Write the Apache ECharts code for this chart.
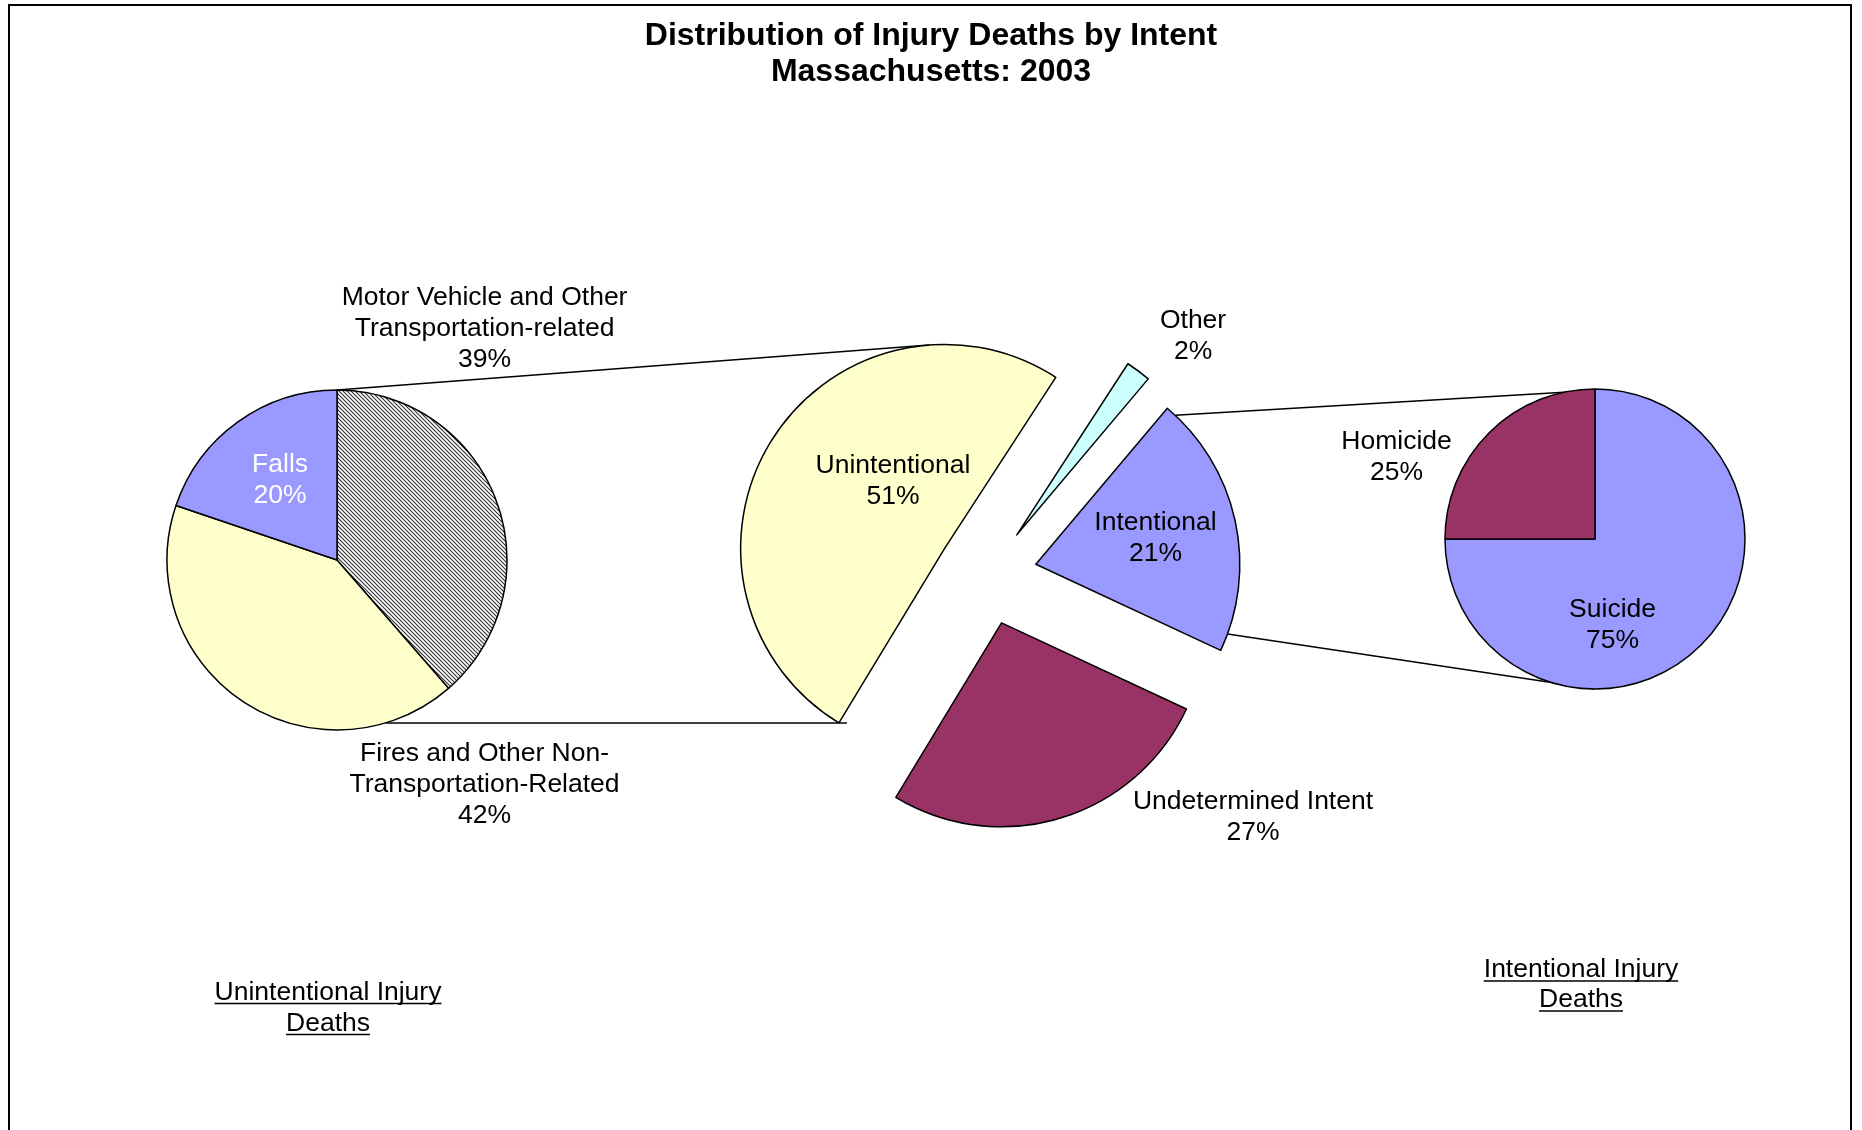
<!DOCTYPE html>
<html>
<head>
<meta charset="utf-8">
<title>Distribution of Injury Deaths by Intent</title>
<script src="https://cdn.jsdelivr.net/npm/echarts@6/dist/echarts.min.js"></script>
<style>
html, body { margin: 0; padding: 0; background: #fff; }
#main { width: 1862px; height: 1130px; }
</style>
</head>
<body>
<div id="main"></div>
<script>
// left pie: unintentional injury deaths by cause
var unintNames = ['Motor Vehicle and Other\nTransportation-related', 'Fires and Other Non-\nTransportation-Related', 'Falls'];
var unintValues = [39, 42, 20];
// middle pie: all injury deaths by intent (exploded)
var intentNames = ['Other', 'Intentional', 'Undetermined Intent', 'Unintentional'];
var intentValues = [2, 21, 27, 51];
// right pie: intentional injury deaths
var intNames = ['Suicide', 'Homicide'];
var intValues = [75, 25];

var titleLines = ['Distribution of Injury Deaths by Intent', 'Massachusetts: 2003'];
var footLeft = ['Unintentional Injury', 'Deaths'];
var footRight = ['Intentional Injury', 'Deaths'];

var FONT = '"Liberation Sans", Arial, sans-serif';
var FS = 26.5;
var LABEL_DY = 2.5;

// pie placement (start = degrees clockwise from 12 o'clock)
var LEFT = { cx: 337, cy: 560, r: 170, start: 0 };
var MID = { cx: 987, cy: 575, r: 204, start: 33, explode: 50 };
var RIGHT = { cx: 1595, cy: 539, r: 150, start: 0 };

// label anchors, in pie radii from the pie centre
var leftLabelPos = [[0.868, -1.376], [0.868, 1.309], [-0.335, -0.485]];
var midLabelPos = [[1.01, -1.184], [0.826, -0.194], [1.304, 1.174], [-0.461, -0.474]];
var rightLabelPos = [[0.117, 0.557], [-1.323, -0.563]];

var BLUE = '#9999FF', YELLOW = '#FFFFCC', PLUM = '#993366', CYAN = '#CCFFFF';

function makeHatch() {
	var c = document.createElement('canvas');
	c.width = 4; c.height = 4;
	var g = c.getContext('2d');
	g.fillStyle = '#fff';
	g.fillRect(0, 0, 4, 4);
	g.strokeStyle = '#333';
	g.lineWidth = 1.1;
	g.beginPath();
	g.moveTo(-1, -1); g.lineTo(5, 5);
	g.moveTo(3, -1); g.lineTo(5, 1);
	g.moveTo(-1, 3); g.lineTo(1, 5);
	g.stroke();
	return { image: c, repeat: 'repeat' };
}

function sliceAngles(values, start) {
	var sum = 0;
	values.forEach(function (v) { sum += v; });
	var a = start, out = [];
	values.forEach(function (v) {
		var b = a + v / sum * 360;
		out.push({ a0: a, a1: b, mid: (a + b) / 2 });
		a = b;
	});
	return out;
}
function polar(cx, cy, r, deg) {
	var t = deg * Math.PI / 180;
	return [cx + r * Math.sin(t), cy - r * Math.cos(t)];
}

function labelOpt(colors, i) {
	return { color: colors[i] };
}

function pieSeries(p, names, values, colors, labelColors, labelPos, opts) {
	opts = opts || {};
	var s = {
		type: 'pie',
		center: [p.cx, p.cy],
		radius: p.r,
		startAngle: 90 - p.start,
		clockwise: true,
		silent: true,
		z: opts.z || 2,
		avoidLabelOverlap: false,
		selectedMode: opts.exploded ? 'multiple' : false,
		selectedOffset: opts.exploded ? p.explode : 0,
		itemStyle: opts.hidden ? { color: 'rgba(0,0,0,0)', borderWidth: 0 } : { borderColor: '#000', borderWidth: 1.5 },
		label: {
			show: !opts.noLabel,
			position: 'inside',
			fontFamily: FONT,
			fontSize: FS,
			lineHeight: 31,
			color: '#000',
			formatter: function (d) { return d.name + '\n' + d.value + '%'; }
		},
		labelLine: { show: false },
		labelLayout: function (d) {
			var o = labelPos[d.dataIndex];
			return { x: p.cx + o[0] * p.r, y: p.cy + o[1] * p.r + LABEL_DY, align: 'center', verticalAlign: 'middle' };
		},
		emphasis: { disabled: true },
		data: names.map(function (n, i) {
			var item = { name: n, value: values[i], selected: !!opts.exploded, label: labelOpt(labelColors, i) };
			if (!opts.hidden) item.itemStyle = { color: colors[i] };
			return item;
		})
	};
	return s;
}

// connector lines between the pies, derived from the slice geometry
var midAng = sliceAngles(intentValues, MID.start);
function slicePiece(i) {
	var c = polar(MID.cx, MID.cy, MID.explode, midAng[i].mid);
	return { cx: c[0], cy: c[1], r: MID.r, a0: midAng[i].a0, a1: midAng[i].a1 };
}
var unint = slicePiece(3), inten = slicePiece(1);

// top-left: tangent from left pie top to the unintentional slice
var P = [LEFT.cx, LEFT.cy - LEFT.r];
var vx = unint.cx - P[0], vy = unint.cy - P[1];
var dist = Math.sqrt(vx * vx + vy * vy);
var base = Math.atan2(vy, vx), half = Math.asin(unint.r / dist);
var tl = Math.sqrt(dist * dist - unint.r * unint.r);
var tanPt = [P[0] + tl * Math.cos(base - half), P[1] + tl * Math.sin(base - half)];
// bottom-left: horizontal from the left pie to the lower corner of the unintentional slice
var uCorner = polar(unint.cx, unint.cy, unint.r, unint.a0);
var dyl = uCorner[1] - LEFT.cy;
var lStart = [LEFT.cx + Math.sqrt(Math.max(0, LEFT.r * LEFT.r - dyl * dyl)), uCorner[1]];
// right: from the intentional slice arc to top and bottom of the right pie
var iTop = polar(inten.cx, inten.cy, inten.r, inten.a0 + 3);
var iBot = polar(inten.cx, inten.cy, inten.r, inten.a1 - 5);

var lineStyle = { stroke: '#000', lineWidth: 1.5 };
var graphics = [
	{ type: 'rect', shape: { x: 9, y: 5, width: 1842, height: 1150 }, style: { fill: 'none', stroke: '#000', lineWidth: 2 } },
	{ type: 'line', shape: { x1: P[0], y1: P[1], x2: tanPt[0], y2: tanPt[1] }, style: lineStyle },
	{ type: 'line', shape: { x1: lStart[0], y1: lStart[1], x2: uCorner[0] + 8, y2: uCorner[1] }, style: lineStyle },
	{ type: 'line', shape: { x1: iTop[0], y1: iTop[1], x2: RIGHT.cx + 7, y2: RIGHT.cy - RIGHT.r + 1 }, style: lineStyle },
	{ type: 'line', shape: { x1: iBot[0], y1: iBot[1], x2: RIGHT.cx, y2: RIGHT.cy + RIGHT.r }, style: lineStyle }
];

var mctx = document.createElement('canvas').getContext('2d');
mctx.font = FS + 'px "Liberation Sans"';
function underlined(lines, cx, y0, step) {
	lines.forEach(function (t, i) {
		var y = y0 + i * step;
		var w = mctx.measureText(t).width;
		graphics.push({
			type: 'text', x: cx, y: y,
			style: { text: t, fill: '#000', font: FS + 'px ' + FONT, align: 'center', verticalAlign: 'middle' }
		});
		graphics.push({
			type: 'line', shape: { x1: cx - w / 2, y1: y + 11, x2: cx + w / 2, y2: y + 11 },
			style: { stroke: '#000', lineWidth: 1.6 }
		});
	});
}
underlined(footLeft, 328, 992.5, 31);
underlined(footRight, 1581, 970, 30);

var black4 = ['#000', '#000', '#000', '#000'];
var chart = echarts.init(document.getElementById('main'));
chart.setOption({
	backgroundColor: '#fff',
	animation: false,
	title: {
		text: titleLines.join('\n'),
		left: 'center',
		top: 18.5,
		padding: 0,
		textStyle: { fontFamily: FONT, fontSize: 32, fontWeight: 'bold', lineHeight: 36, color: '#000' }
	},
	graphic: { elements: graphics },
	series: [
		pieSeries(LEFT, unintNames, unintValues, [makeHatch(), YELLOW, BLUE], ['#000', '#000', '#fff'], leftLabelPos),
		// exploded slices (labels carried by the overlay below)
		pieSeries(MID, intentNames, intentValues, [CYAN, BLUE, PLUM, YELLOW], black4, midLabelPos, { exploded: true, noLabel: true }),
		// invisible copy of the middle pie that only carries its labels
		pieSeries(MID, intentNames, intentValues, null, black4, midLabelPos, { hidden: true, z: 3 }),
		pieSeries(RIGHT, intNames, intValues, [BLUE, PLUM], ['#000', '#000'], rightLabelPos)
	]
});
</script>
</body>
</html>
